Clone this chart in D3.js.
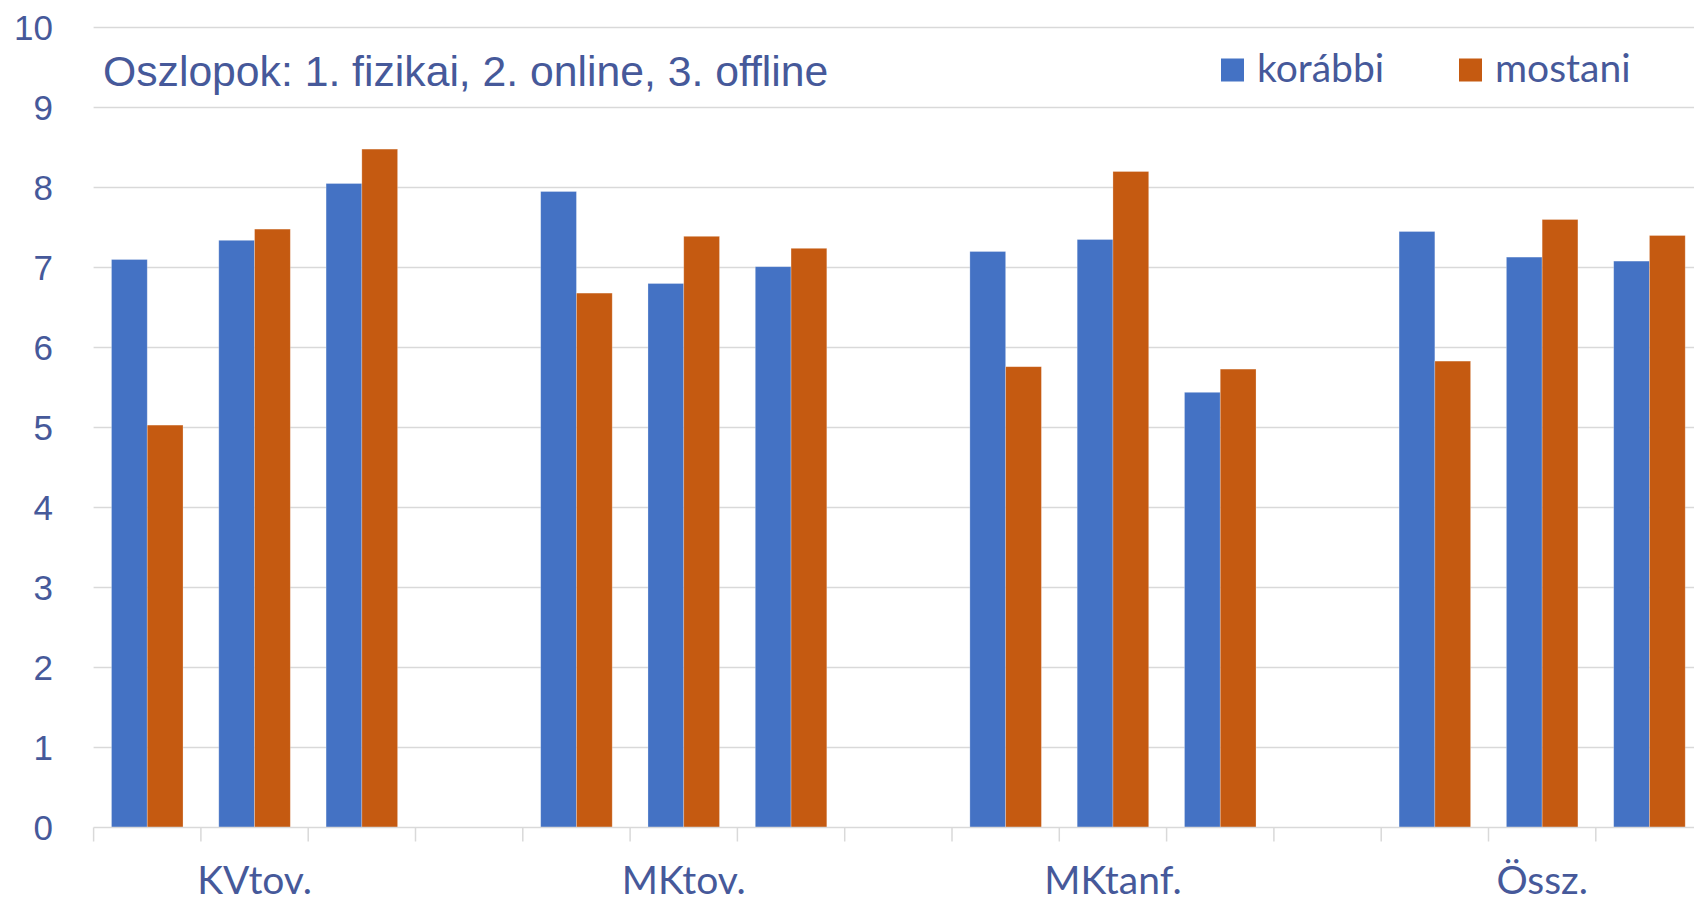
<!DOCTYPE html>
<html>
<head>
<meta charset="utf-8">
<script src="https://cdn.jsdelivr.net/npm/d3@7"></script>
<style>
  html, body { margin: 0; padding: 0; background: #fff; overflow: hidden; }
  svg { display: block; }
</style>
</head>
<body>
<svg id="chart" width="1694" height="901"></svg>
<script>
// ---- data ----
const groups = ["KVtov.", "MKtov.", "MKtanf.", "Össz."];
const subs = ["1", "2", "3"];
const series = ["korábbi", "mostani"];
const korabbi = [7.10, 7.34, 8.05, 7.95, 6.80, 7.01, 7.20, 7.35, 5.44, 7.45, 7.13, 7.08];
const mostani = [5.03, 7.48, 8.48, 6.68, 7.39, 7.24, 5.76, 8.20, 5.73, 5.83, 7.60, 7.40];
const yTicks = [0, 1, 2, 3, 4, 5, 6, 7, 8, 9, 10];
const title = "Oszlopok: 1. fizikai, 2. online, 3. offline";
const colors = ["#4472C4", "#C55A11"];

const textColor = "#46599A";
const gridColor = "#D9D9D9";

const svg = d3.select("#chart");

// slots: 3 bars per group + an empty slot after each group
const slots = [];
groups.forEach(g => { subs.forEach(s => slots.push(g + "|" + s)); slots.push(g + "|gap"); });

const step = 107.3;
const x0 = 93.6;
const x = d3.scaleBand().domain(slots).range([x0, x0 + step * slots.length]).paddingInner(0).paddingOuter(0);
const xs = d3.scaleBand().domain(series).range([0, x.bandwidth()]).paddingInner(0).paddingOuter(0.5);
const y = d3.scaleLinear().domain([0, 10]).range([827.5, 27.5]);

// gridlines
svg.append("g").selectAll("line").data(yTicks.filter(t => t > 0)).join("line")
  .attr("x1", x0).attr("x2", 1694)
  .attr("y1", d => y(d)).attr("y2", d => y(d))
  .attr("stroke", gridColor).attr("stroke-width", 1.5);

// y tick labels
svg.append("g").selectAll("text").data(yTicks).join("text")
  .attr("x", 53).attr("y", d => y(d))
  .attr("text-anchor", "end").attr("dominant-baseline", "central")
  .attr("font-family", "'Liberation Sans', Arial, sans-serif")
  .attr("font-size", 35).attr("fill", textColor)
  .text(d => d);

// bars
const rows = [];
groups.forEach((g, gi) => subs.forEach((s, si) => {
  const i = gi * subs.length + si;
  rows.push({ key: g + "|" + s, vals: [korabbi[i], mostani[i]] });
}));
const barG = svg.append("g");
rows.forEach(r => {
  series.forEach((sname, k) => {
    barG.append("rect")
      .attr("x", x(r.key) + xs(sname))
      .attr("width", xs.bandwidth())
      .attr("y", y(r.vals[k]))
      .attr("height", y(0) - y(r.vals[k]))
      .attr("fill", colors[k])
      .attr("stroke", "#ffffff").attr("stroke-opacity", 0.35).attr("stroke-width", 0.75);
  });
});

// x axis line and ticks
const axisG = svg.append("g");
axisG.append("line").attr("x1", x0).attr("x2", 1694).attr("y1", y(0)).attr("y2", y(0))
  .attr("stroke", gridColor).attr("stroke-width", 1.5);
const tickPos = slots.map(s => x(s)).concat([x(slots[slots.length - 1]) + x.bandwidth()]);
axisG.selectAll("line.tick").data(tickPos).join("line").attr("class", "tick")
  .attr("x1", d => d).attr("x2", d => d).attr("y1", y(0)).attr("y2", y(0) + 14)
  .attr("stroke", gridColor).attr("stroke-width", 1.5);

// group labels
svg.append("g").selectAll("text").data(groups).join("text")
  .attr("x", g => (x(g + "|1") + x(g + "|3") + x.bandwidth()) / 2)
  .attr("y", 894)
  .attr("text-anchor", "middle")
  .attr("font-family", "Lato, 'Open Sans', sans-serif")
  .attr("font-size", 39).attr("fill", textColor)
  .text(g => g);

// title
svg.append("text").attr("x", 103).attr("y", 86)
  .attr("font-family", "'Liberation Sans', Arial, sans-serif")
  .attr("font-size", 42.7).attr("fill", textColor)
  .text(title);

// legend
const legendX = [1221, 1459];
const lg = svg.append("g");
series.forEach((s, k) => {
  lg.append("rect").attr("x", legendX[k]).attr("y", 58.5).attr("width", 23).attr("height", 23).attr("fill", colors[k]);
  lg.append("text").attr("x", legendX[k] + 36).attr("y", 81.5)
    .attr("font-family", "Lato, 'Open Sans', sans-serif")
    .attr("font-size", 39).attr("fill", textColor)
    .text(s);
});
</script>
</body>
</html>
